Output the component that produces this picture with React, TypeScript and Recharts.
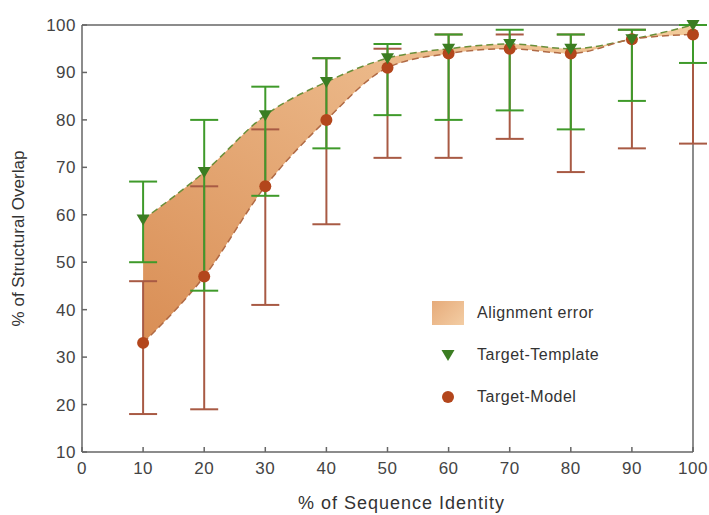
import React from "react";
import {
  ComposedChart,
  Area,
  Line,
  Scatter,
  ErrorBar,
  XAxis,
  YAxis,
  ReferenceLine,
} from "recharts";

// % of sequence identity
const identity = [10, 20, 30, 40, 50, 60, 70, 80, 90, 100];

// Target-Template (green triangles) with error range
const template = [59, 69, 81, 88, 93, 95, 96, 95, 97, 100];
const templateLow = [50, 44, 64, 74, 81, 80, 82, 78, 84, 92];
const templateHigh = [67, 80, 87, 93, 96, 98, 99, 98, 99, 100];

// Target-Model (brown circles) with error range
const model = [33, 47, 66, 80, 91, 94, 95, 94, 97, 98];
const modelLow = [18, 19, 41, 58, 72, 72, 76, 69, 74, 75];
const modelHigh = [46, 66, 78, 93, 95, 98, 98, 98, 99, 100];

const xTicks = [0, 10, 20, 30, 40, 50, 60, 70, 80, 90, 100];
const yTicks = [10, 20, 30, 40, 50, 60, 70, 80, 90, 100];

const data = identity.map((x, i) => ({
  x,
  template: template[i],
  templateErr: [template[i] - templateLow[i], templateHigh[i] - template[i]],
  model: model[i],
  modelErr: [model[i] - modelLow[i], modelHigh[i] - model[i]],
}));

const GREEN = "#3f9a2a";
const GREEN_DARK = "#3b7d22";
const BROWN = "#a85a44";
const BROWN_DOT = "#b3461c";
const AXIS = "#666";
const FONT = "'Liberation Sans', Arial, sans-serif";

const Triangle = (props: any) => {
  const { cx, cy } = props;
  if (cx == null || cy == null) return null;
  return (
    <polygon
      points={`${cx - 6.5},${cy - 5} ${cx + 6.5},${cy - 5} ${cx},${cy + 6}`}
      fill={GREEN_DARK}
    />
  );
};

const Dot = (props: any) => {
  const { cx, cy } = props;
  if (cx == null || cy == null) return null;
  return <circle cx={cx} cy={cy} r={6} fill={BROWN_DOT} />;
};

const ChartLegend = () => (
  <div
    style={{
      position: "absolute",
      left: 432,
      top: 298,
      fontFamily: FONT,
      fontSize: 16,
      letterSpacing: 0.5,
      color: "#333",
    }}
  >
    <div style={{ display: "flex", alignItems: "center", height: 30, marginBottom: 12 }}>
      <div
        style={{
          width: 32,
          height: 24,
          background: "linear-gradient(135deg, #e6ab7a, #f3cda4)",
          marginRight: 13,
        }}
      />
      Alignment error
    </div>
    <div style={{ display: "flex", alignItems: "center", height: 30, marginBottom: 12 }}>
      <svg width={32} height={20} style={{ marginRight: 13 }}>
        <polygon points="9.5,5 22.5,5 16,16" fill={GREEN_DARK} />
      </svg>
      Target-Template
    </div>
    <div style={{ display: "flex", alignItems: "center", height: 30 }}>
      <svg width={32} height={20} style={{ marginRight: 13 }}>
        <circle cx={16} cy={10} r={6} fill={BROWN_DOT} />
      </svg>
      Target-Model
    </div>
  </div>
);

export default function App() {
  return (
    <div style={{ position: "absolute", left: 0, top: 0, width: 709, height: 515, background: "#fff" }}>
      <ComposedChart
        width={709}
        height={515}
        data={data}
        margin={{ top: 25, right: 16, left: 0, bottom: 0 }}
      >
        <defs>
          <linearGradient id="band" x1="0" y1="1" x2="1" y2="0">
            <stop offset="0%" stopColor="#d98e55" />
            <stop offset="60%" stopColor="#eab585" />
            <stop offset="100%" stopColor="#f3cc9c" />
          </linearGradient>
        </defs>
        <XAxis
          dataKey="x"
          type="number"
          domain={[0, 100]}
          ticks={xTicks}
          interval={0}
          height={63}
          stroke={AXIS}
          strokeWidth={1.5}
          tickSize={-5}
          tickMargin={15}
          tick={{ fill: "#444", fontSize: 17, fontFamily: FONT, letterSpacing: 0.5 }}
          label={{
            value: "% of Sequence Identity",
            position: "insideBottom",
            offset: 6,
            dx: 14,
            fill: "#333",
            fontSize: 18,
            fontFamily: FONT,
            style: { letterSpacing: 1 },
          }}
        />
        <YAxis
          type="number"
          domain={[10, 100]}
          ticks={yTicks}
          interval={0}
          width={82}
          stroke={AXIS}
          strokeWidth={1.5}
          tickSize={-5}
          tickMargin={11}
          tick={{ fill: "#444", fontSize: 17, fontFamily: FONT, letterSpacing: 0.5 }}
          label={{
            value: "% of Structural Overlap",
            angle: -90,
            position: "insideLeft",
            offset: 18,
            fill: "#333",
            fontSize: 17,
            fontFamily: FONT,
            style: { textAnchor: "middle" },
          }}
        />
        <ReferenceLine y={100} stroke={AXIS} strokeWidth={1.5} />
        <ReferenceLine x={100} stroke={AXIS} strokeWidth={1.5} />
        <Area
          type="monotone"
          dataKey={(d: any) => [d.model, d.template]}
          fill="url(#band)"
          fillOpacity={1}
          stroke="none"
          isAnimationActive={false}
        />
        <Line
          type="monotone"
          dataKey="template"
          stroke="#6a8f3a"
          strokeWidth={1.5}
          strokeDasharray="7 4"
          dot={false}
          isAnimationActive={false}
        />
        <Line
          type="monotone"
          dataKey="model"
          stroke="#b06a45"
          strokeWidth={1.5}
          strokeDasharray="7 4"
          dot={false}
          isAnimationActive={false}
        />
        <Scatter dataKey="model" shape={<Dot />} isAnimationActive={false}>
          <ErrorBar
            dataKey="modelErr"
            direction="y"
            width={14}
            stroke={BROWN}
            strokeWidth={2}
            isAnimationActive={false}
          />
        </Scatter>
        <Scatter dataKey="template" shape={<Triangle />} isAnimationActive={false}>
          <ErrorBar
            dataKey="templateErr"
            direction="y"
            width={14}
            stroke={GREEN}
            strokeWidth={2}
            isAnimationActive={false}
          />
        </Scatter>
      </ComposedChart>
      <ChartLegend />
    </div>
  );
}
